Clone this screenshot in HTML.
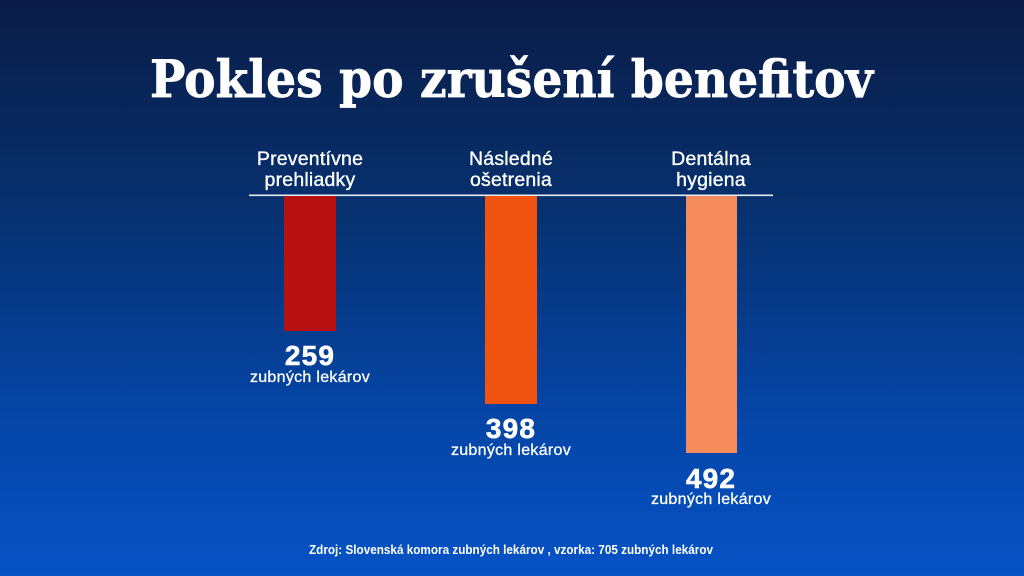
<!DOCTYPE html>
<html>
<head>
<meta charset="utf-8">
<style>
  html,body{margin:0;padding:0;width:1024px;height:576px;overflow:hidden;}
  svg{display:block;}
  .lab{font-family:"Liberation Sans",sans-serif;font-size:19.5px;fill:#fff;stroke:#fff;stroke-width:0.35px;letter-spacing:0.2px;}
  .num{font-family:"Liberation Sans",sans-serif;font-weight:bold;font-size:28px;fill:#fff;stroke:#fff;stroke-width:0.6px;letter-spacing:1.2px;}
  .sub{font-family:"Liberation Sans",sans-serif;font-size:16px;fill:#fff;stroke:#fff;stroke-width:0.3px;letter-spacing:0.3px;}
</style>
</head>
<body>
<svg width="1024" height="576" viewBox="0 0 1024 576" xmlns="http://www.w3.org/2000/svg">
  <defs>
    <linearGradient id="bg" x1="0" y1="0" x2="0" y2="1">
      <stop offset="0" stop-color="#0a1c46"/>
      <stop offset="0.35" stop-color="#07306d"/>
      <stop offset="0.7" stop-color="#0544a3"/>
      <stop offset="1" stop-color="#0652c6"/>
    </linearGradient>
  </defs>
  <rect x="0" y="0" width="1024" height="576" fill="url(#bg)"/>

  <text x="150" y="97" textLength="723" lengthAdjust="spacingAndGlyphs" font-family="'DejaVu Serif','Liberation Serif',serif" font-weight="bold" font-size="51" fill="#fff" stroke="#fff" stroke-width="0.8">Pokles po zrušení benefitov</text>

  <text class="lab" x="310" y="165" text-anchor="middle">Preventívne</text>
  <text class="lab" x="310" y="186" text-anchor="middle">prehliadky</text>
  <text class="lab" x="511" y="165" text-anchor="middle">Následné</text>
  <text class="lab" x="511" y="186" text-anchor="middle">ošetrenia</text>
  <text class="lab" x="711" y="165" text-anchor="middle">Dentálna</text>
  <text class="lab" x="711" y="186" text-anchor="middle">hygiena</text>

  <rect x="249" y="194.5" width="524" height="1.6" fill="#e8eef8"/>

  <rect x="284" y="196" width="52" height="135" fill="#b81111"/>
  <rect x="485" y="196" width="52" height="208" fill="#f0520f"/>
  <rect x="686" y="196" width="51" height="257" fill="#f58a5b"/>

  <text class="num" x="310" y="365" text-anchor="middle">259</text>
  <text class="sub" x="310" y="382" text-anchor="middle">zubných lekárov</text>
  <text class="num" x="511" y="438" text-anchor="middle">398</text>
  <text class="sub" x="511" y="455" text-anchor="middle">zubných lekárov</text>
  <text class="num" x="711" y="488" text-anchor="middle">492</text>
  <text class="sub" x="711" y="504" text-anchor="middle">zubných lekárov</text>

  <text x="309" y="554" textLength="404" lengthAdjust="spacingAndGlyphs" font-family="'Liberation Sans',sans-serif" font-weight="bold" font-size="13" fill="#fff">Zdroj: Slovenská komora zubných lekárov , vzorka: 705 zubných lekárov</text>
</svg>
</body>
</html>
